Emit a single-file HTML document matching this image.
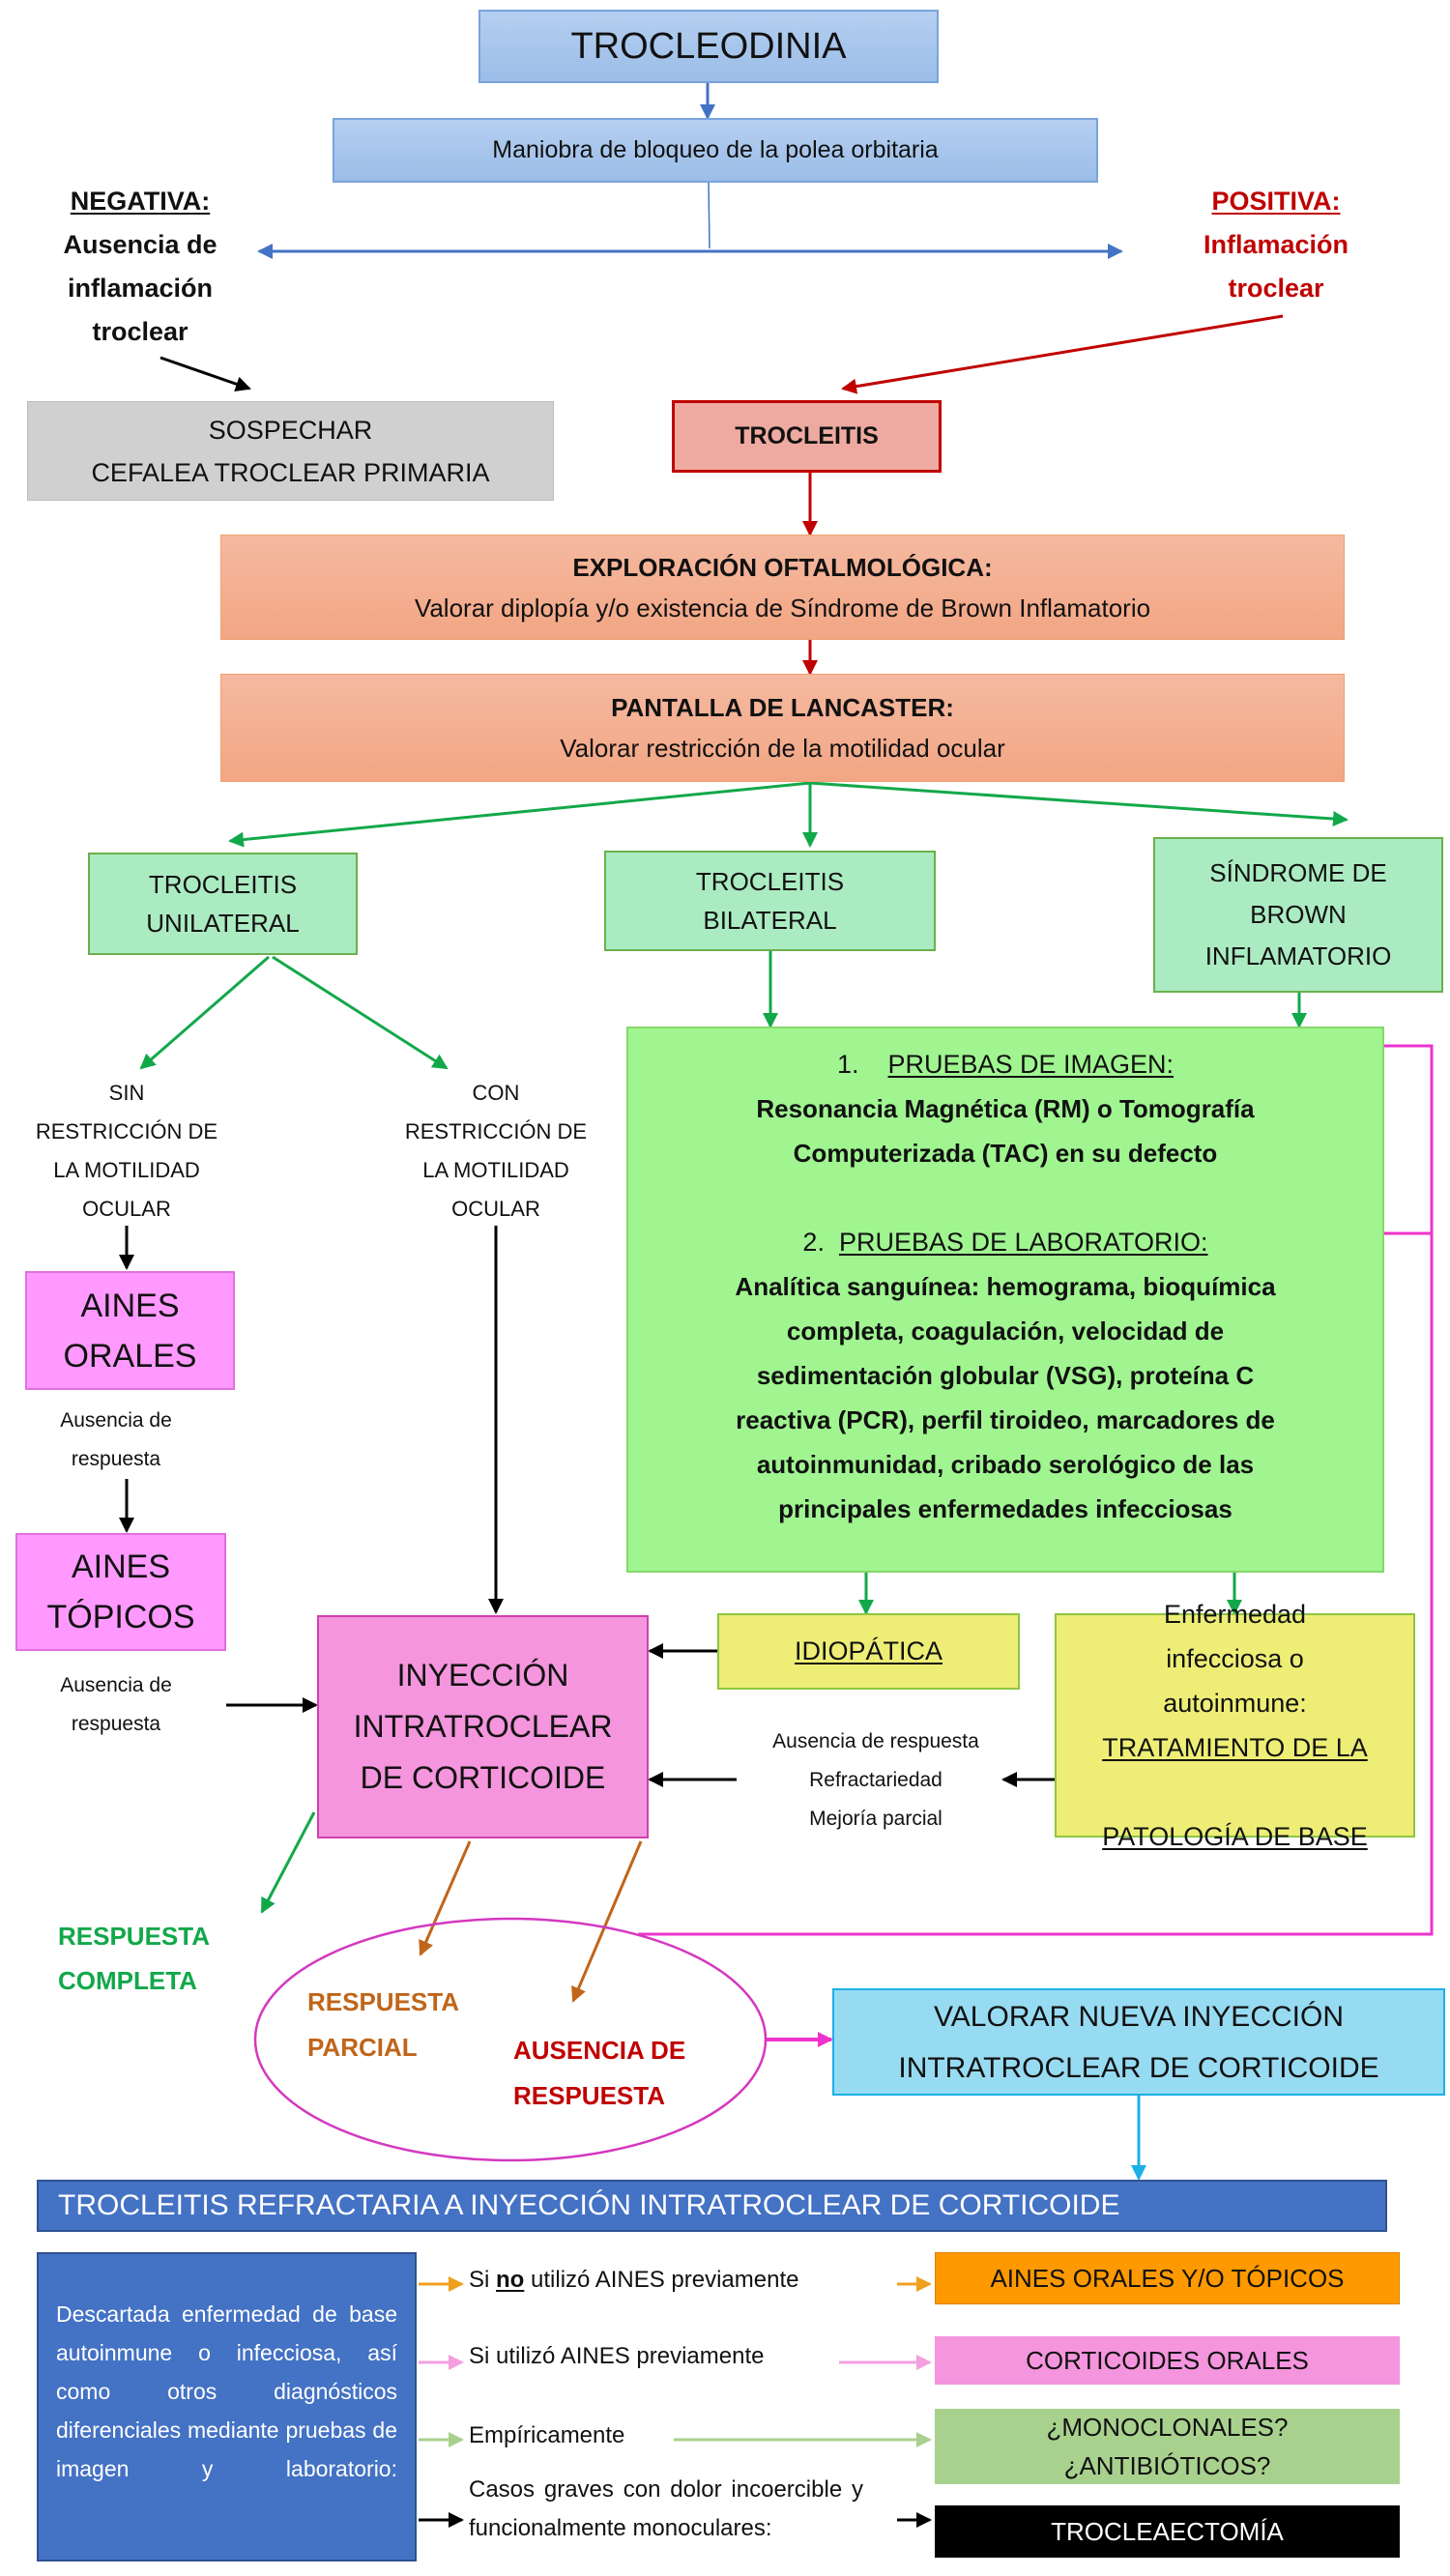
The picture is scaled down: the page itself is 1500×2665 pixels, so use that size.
<!DOCTYPE html>
<html><head><meta charset="utf-8">
<style>
body{margin:0;background:#fff;}
#p{position:relative;width:1500px;height:2665px;overflow:hidden;font-family:"Liberation Sans",sans-serif;color:#111;}
.b{position:absolute;box-sizing:border-box;display:flex;flex-direction:column;align-items:center;justify-content:center;text-align:center;}
.t{position:absolute;text-align:center;white-space:nowrap;}
u{text-decoration-thickness:2px;text-underline-offset:3px}
svg{position:absolute;left:0;top:0}
</style></head><body><div id="p">
<svg width="1500" height="2665" viewBox="0 0 1500 2665">
<defs>
<marker id="ab" markerWidth="8" markerHeight="8" refX="7" refY="4" orient="auto" markerUnits="userSpaceOnUse"><path d="M0,0L8,4L0,8Z" fill="#4472c4"/></marker>
<marker id="ab2" markerWidth="16" markerHeight="16" refX="14" refY="8" orient="auto" markerUnits="userSpaceOnUse"><path d="M0,0L16,8L0,16Z" fill="#4472c4"/></marker>
<marker id="ar" markerWidth="16" markerHeight="16" refX="14" refY="8" orient="auto" markerUnits="userSpaceOnUse"><path d="M0,0L16,8L0,16Z" fill="#c00000"/></marker>
<marker id="ak" markerWidth="16" markerHeight="16" refX="14" refY="8" orient="auto" markerUnits="userSpaceOnUse"><path d="M0,0L16,8L0,16Z" fill="#000"/></marker>
<marker id="ag" markerWidth="16" markerHeight="16" refX="14" refY="8" orient="auto" markerUnits="userSpaceOnUse"><path d="M0,0L16,8L0,16Z" fill="#12a84a"/></marker>
<marker id="am" markerWidth="16" markerHeight="16" refX="14" refY="8" orient="auto" markerUnits="userSpaceOnUse"><path d="M0,0L16,8L0,16Z" fill="#ee33cc"/></marker>
<marker id="an" markerWidth="16" markerHeight="16" refX="14" refY="8" orient="auto" markerUnits="userSpaceOnUse"><path d="M0,0L16,8L0,16Z" fill="#c0651a"/></marker>
<marker id="ac" markerWidth="16" markerHeight="16" refX="14" refY="8" orient="auto" markerUnits="userSpaceOnUse"><path d="M0,0L16,8L0,16Z" fill="#1ab0e8"/></marker>
<marker id="ao" markerWidth="16" markerHeight="16" refX="14" refY="8" orient="auto" markerUnits="userSpaceOnUse"><path d="M0,0L16,8L0,16Z" fill="#f0a020"/></marker>
<marker id="ap" markerWidth="16" markerHeight="16" refX="14" refY="8" orient="auto" markerUnits="userSpaceOnUse"><path d="M0,0L16,8L0,16Z" fill="#f4a0e0"/></marker>
<marker id="al" markerWidth="16" markerHeight="16" refX="14" refY="8" orient="auto" markerUnits="userSpaceOnUse"><path d="M0,0L16,8L0,16Z" fill="#a9d18e"/></marker>
</defs>
<g stroke-width="3" fill="none">
<line x1="732" y1="84" x2="732" y2="122" stroke="#4472c4" marker-end="url(#ab2)"/>
<line x1="733" y1="189" x2="734" y2="257" stroke="#4472c4" stroke-width="1.5"/>
<line x1="285" y1="260" x2="1160" y2="260" stroke="#4472c4" marker-end="url(#ab2)"/>
<line x1="1160" y1="260" x2="268" y2="260" stroke="#4472c4" marker-end="url(#ab2)"/>
<line x1="166" y1="370" x2="258" y2="402" stroke="#000" marker-end="url(#ak)"/>
<line x1="1327" y1="327" x2="872" y2="402" stroke="#c00000" marker-end="url(#ar)"/>
<line x1="838" y1="489" x2="838" y2="553" stroke="#c00000" marker-end="url(#ar)"/>
<line x1="838" y1="662" x2="838" y2="697" stroke="#c00000" marker-end="url(#ar)"/>
<line x1="838" y1="810" x2="238" y2="870" stroke="#12a84a" marker-end="url(#ag)"/>
<line x1="838" y1="810" x2="838" y2="875" stroke="#12a84a" marker-end="url(#ag)"/>
<line x1="838" y1="810" x2="1393" y2="848" stroke="#12a84a" marker-end="url(#ag)"/>
<line x1="278" y1="990" x2="146" y2="1105" stroke="#12a84a" marker-end="url(#ag)"/>
<line x1="282" y1="990" x2="462" y2="1105" stroke="#12a84a" marker-end="url(#ag)"/>
<line x1="797" y1="984" x2="797" y2="1062" stroke="#12a84a" marker-end="url(#ag)"/>
<line x1="1344" y1="1027" x2="1344" y2="1062" stroke="#12a84a" marker-end="url(#ag)"/>
<line x1="896" y1="1627" x2="896" y2="1669" stroke="#12a84a" marker-end="url(#ag)"/>
<line x1="1277" y1="1627" x2="1277" y2="1669" stroke="#12a84a" marker-end="url(#ag)"/>
<line x1="131" y1="1268" x2="131" y2="1312" stroke="#000" marker-end="url(#ak)"/>
<line x1="131" y1="1530" x2="131" y2="1584" stroke="#000" marker-end="url(#ak)"/>
<line x1="513" y1="1268" x2="513" y2="1668" stroke="#000" marker-end="url(#ak)"/>
<line x1="234" y1="1764" x2="327" y2="1764" stroke="#000" marker-end="url(#ak)"/>
<line x1="742" y1="1708" x2="672" y2="1708" stroke="#000" marker-end="url(#ak)"/>
<line x1="762" y1="1841" x2="672" y2="1841" stroke="#000" marker-end="url(#ak)"/>
<line x1="1091" y1="1841" x2="1038" y2="1841" stroke="#000" marker-end="url(#ak)"/>
<polyline points="660,2001 1481,2001 1481,1082 1401,1082" stroke="#ee33cc" marker-end="url(#am)"/>
<line x1="1481" y1="1276" x2="1401" y2="1276" stroke="#ee33cc" marker-end="url(#am)"/>
<line x1="325" y1="1875" x2="271" y2="1978" stroke="#12a84a" marker-end="url(#ag)"/>
<line x1="486" y1="1905" x2="435" y2="2022" stroke="#c0651a" marker-end="url(#an)"/>
<line x1="663" y1="1905" x2="593" y2="2070" stroke="#c0651a" marker-end="url(#an)"/>
<ellipse cx="528" cy="2110" rx="264" ry="125" stroke="#d438c0" stroke-width="2.5"/>
<line x1="793" y1="2110" x2="860" y2="2110" stroke="#ee33cc" stroke-width="4" marker-end="url(#am)"/>
<line x1="1178" y1="2168" x2="1178" y2="2254" stroke="#1ab0e8" marker-end="url(#ac)"/>
<line x1="433" y1="2363" x2="478" y2="2363" stroke="#f0a020" marker-end="url(#ao)"/>
<line x1="928" y1="2363" x2="962" y2="2363" stroke="#f0a020" marker-end="url(#ao)"/>
<line x1="433" y1="2444" x2="478" y2="2444" stroke="#f4a0e0" marker-end="url(#ap)"/>
<line x1="868" y1="2444" x2="962" y2="2444" stroke="#f4a0e0" marker-end="url(#ap)"/>
<line x1="433" y1="2524" x2="478" y2="2524" stroke="#a9d18e" marker-end="url(#al)"/>
<line x1="697" y1="2524" x2="962" y2="2524" stroke="#a9d18e" marker-end="url(#al)"/>
<line x1="433" y1="2607" x2="478" y2="2607" stroke="#000" marker-end="url(#ak)"/>
<line x1="928" y1="2607" x2="962" y2="2607" stroke="#000" marker-end="url(#ak)"/>
</g>
</svg>

<div class="b" style="left:495px;top:10px;width:476px;height:76px;background:linear-gradient(#b5cff0,#9bbde8);border:2px solid #7aa3dd;font-size:38px;">TROCLEODINIA</div>
<div class="b" style="left:344px;top:122px;width:792px;height:67px;background:linear-gradient(#b5cff0,#9bbde8);border:2px solid #7aa3dd;font-size:25px;">Maniobra de bloqueo de la polea orbitaria</div>

<div class="t" style="left:10px;top:186px;width:270px;font-size:27px;font-weight:bold;line-height:45px;"><u>NEGATIVA:</u><br>Ausencia de<br>inflamación<br>troclear</div>
<div class="t" style="left:1180px;top:186px;width:280px;font-size:27px;font-weight:bold;line-height:45px;color:#c00000;"><u>POSITIVA:</u><br>Inflamación<br>troclear</div>

<div class="b" style="left:28px;top:415px;width:545px;height:103px;background:#d0d0d0;border:1px solid #bbb;font-size:27px;line-height:44px;">SOSPECHAR<br>CEFALEA TROCLEAR PRIMARIA</div>
<div class="b" style="left:695px;top:414px;width:279px;height:75px;background:#eeaaa0;border:3px solid #c00000;font-size:25px;font-weight:bold;">TROCLEITIS</div>

<div class="b" style="left:228px;top:553px;width:1163px;height:109px;background:linear-gradient(#f5b9a0,#f2a684);border:1px solid #f0a070;font-size:26px;line-height:42px;"><b>EXPLORACIÓN OFTALMOLÓGICA:</b>Valorar diplopía y/o existencia de Síndrome de Brown Inflamatorio</div>
<div class="b" style="left:228px;top:697px;width:1163px;height:112px;background:linear-gradient(#f5b9a0,#f2a684);border:1px solid #f0a070;font-size:26px;line-height:42px;"><b>PANTALLA DE LANCASTER:</b>Valorar restricción de la motilidad ocular</div>

<div class="b" style="left:91px;top:882px;width:279px;height:106px;background:#abebc2;border:2px solid #6ab04c;font-size:26px;line-height:40px;">TROCLEITIS<br>UNILATERAL</div>
<div class="b" style="left:625px;top:880px;width:343px;height:104px;background:#abebc2;border:2px solid #6ab04c;font-size:26px;line-height:40px;">TROCLEITIS<br>BILATERAL</div>
<div class="b" style="left:1193px;top:866px;width:300px;height:161px;background:#abebc2;border:2px solid #6ab04c;font-size:26px;line-height:43px;">SÍNDROME DE<br>BROWN<br>INFLAMATORIO</div>

<div class="t" style="left:6px;top:1111px;width:250px;font-size:22px;line-height:40px;">SIN<br>RESTRICCIÓN DE<br>LA MOTILIDAD<br>OCULAR</div>
<div class="t" style="left:388px;top:1111px;width:250px;font-size:22px;line-height:40px;">CON<br>RESTRICCIÓN DE<br>LA MOTILIDAD<br>OCULAR</div>

<div class="b" style="left:648px;top:1062px;width:784px;height:565px;background:#a0f590;border:2px solid #86d86a;justify-content:flex-start;padding-top:14px;font-size:27px;line-height:46px;">
<div>1.&nbsp;&nbsp;&nbsp;&nbsp;<u>PRUEBAS DE IMAGEN:</u></div>
<div style="font-weight:bold;font-size:26px;">Resonancia Magnética (RM) o Tomografía<br>Computerizada (TAC) en su defecto</div>
<div style="margin-top:46px;">2.&nbsp;&nbsp;<u>PRUEBAS DE LABORATORIO:</u></div>
<div style="font-weight:bold;font-size:26px;">Analítica sanguínea: hemograma, bioquímica<br>completa, coagulación, velocidad de<br>sedimentación globular (VSG), proteína C<br>reactiva (PCR), perfil tiroideo, marcadores de<br>autoinmunidad, cribado serológico de las<br>principales enfermedades infecciosas</div>
</div>

<div class="b" style="left:26px;top:1315px;width:217px;height:123px;background:#ff99ff;border:2px solid #e070e0;font-size:34px;line-height:52px;">AINES<br>ORALES</div>
<div class="t" style="left:20px;top:1450px;width:200px;font-size:21px;line-height:40px;">Ausencia de<br>respuesta</div>
<div class="b" style="left:16px;top:1586px;width:218px;height:122px;background:#ff99ff;border:2px solid #e070e0;font-size:34px;line-height:52px;">AINES<br>TÓPICOS</div>
<div class="t" style="left:20px;top:1724px;width:200px;font-size:21px;line-height:40px;">Ausencia de<br>respuesta</div>

<div class="b" style="left:328px;top:1671px;width:343px;height:231px;background:#f495dd;border:2px solid #d040b0;font-size:32px;line-height:53px;">INYECCIÓN<br>INTRATROCLEAR<br>DE CORTICOIDE</div>
<div class="b" style="left:742px;top:1669px;width:313px;height:79px;background:#eeee77;border:2px solid #8ec63f;font-size:27px;"><u>IDIOPÁTICA</u></div>
<div class="b" style="left:1091px;top:1669px;width:373px;height:232px;background:#eeee77;border:2px solid #8ec63f;font-size:27px;line-height:46px;">Enfermedad<br>infecciosa o<br>autoinmune:<br><u>TRATAMIENTO DE LA</u><br><u>PATOLOGÍA DE BASE</u></div>
<div class="t" style="left:770px;top:1782px;width:272px;font-size:21px;line-height:40px;">Ausencia de respuesta<br>Refractariedad<br>Mejoría parcial</div>

<div class="t" style="left:60px;top:1980px;width:160px;text-align:left;font-size:26px;font-weight:bold;line-height:46px;color:#12a84a;">RESPUESTA<br>COMPLETA</div>
<div class="t" style="left:318px;top:2048px;width:180px;text-align:left;font-size:26px;font-weight:bold;line-height:47px;color:#c0651a;">RESPUESTA<br>PARCIAL</div>
<div class="t" style="left:531px;top:2098px;width:250px;text-align:left;font-size:26px;font-weight:bold;line-height:47px;color:#c00000;">AUSENCIA DE<br>RESPUESTA</div>

<div class="b" style="left:861px;top:2057px;width:634px;height:111px;background:#97dbf2;border:2px solid #1ab0e8;font-size:30px;line-height:53px;">VALORAR NUEVA INYECCIÓN<br>INTRATROCLEAR DE CORTICOIDE</div>

<div class="b" style="left:38px;top:2255px;width:1397px;height:54px;background:#4472c4;border:2px solid #2f528f;color:#fff;font-size:30px;align-items:flex-start;padding-left:20px;">TROCLEITIS REFRACTARIA A INYECCIÓN INTRATROCLEAR DE CORTICOIDE</div>

<div style="position:absolute;left:38px;top:2330px;width:393px;height:320px;box-sizing:border-box;background:#4472c4;border:2px solid #2f528f;color:#fff;font-size:23px;line-height:40px;padding:42px 18px 0 18px;text-align:justify;text-align-last:justify;">Descartada enfermedad de base autoinmune o infecciosa, así como otros diagnósticos diferenciales mediante pruebas de <span style="text-align-last:left">imagen y laboratorio:</span></div>

<div class="t" style="left:485px;top:2345px;text-align:left;font-size:24px;">Si <u><b>no</b></u> utilizó AINES previamente</div>
<div class="t" style="left:485px;top:2424px;text-align:left;font-size:24px;">Si utilizó AINES previamente</div>
<div class="t" style="left:485px;top:2506px;text-align:left;font-size:24px;">Empíricamente</div>
<div style="position:absolute;left:485px;top:2556px;width:408px;font-size:24px;line-height:40px;text-align:justify;">Casos graves con dolor incoercible y funcionalmente monoculares:</div>

<div class="b" style="left:967px;top:2330px;width:481px;height:54px;background:#ff9900;border:1px solid #e08000;font-size:26px;">AINES ORALES Y/O TÓPICOS</div>
<div class="b" style="left:967px;top:2417px;width:481px;height:50px;background:#f495dd;font-size:26px;">CORTICOIDES ORALES</div>
<div class="b" style="left:967px;top:2492px;width:481px;height:78px;background:#a9d18e;font-size:26px;line-height:40px;">¿MONOCLONALES?<br>¿ANTIBIÓTICOS?</div>
<div class="b" style="left:967px;top:2592px;width:481px;height:54px;background:#000;color:#fff;font-size:26px;">TROCLEAECTOMÍA</div>
</div></body></html>
